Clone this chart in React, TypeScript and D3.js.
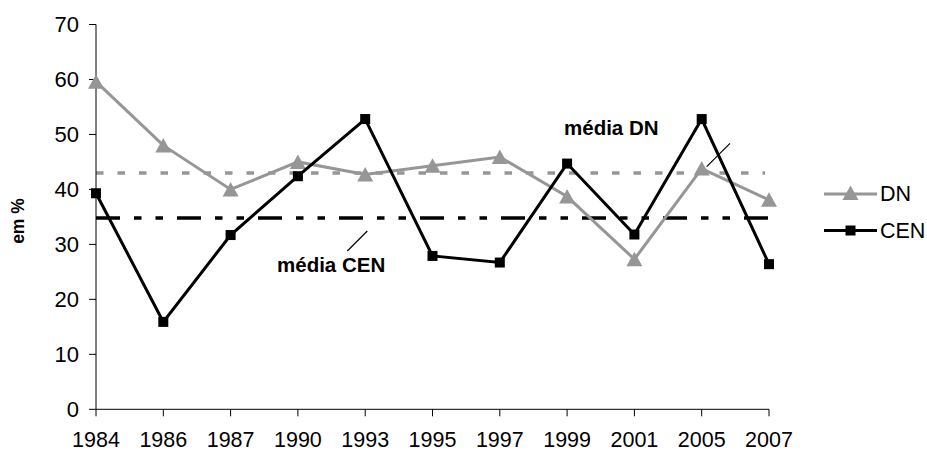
import React from "react";
import * as d3 from "d3";

// Years on the category axis
const years = ["1984", "1986", "1987", "1990", "1993", "1995", "1997", "1999", "2001", "2005", "2007"];
// Series values (em %)
const dnValues = [59.6, 48.0, 40.0, 45.0, 42.7, 44.3, 45.9, 38.7, 27.3, 43.8, 38.1];
const cenValues = [39.3, 15.9, 31.7, 42.4, 52.8, 27.9, 26.7, 44.7, 31.8, 52.8, 26.4];
// Average reference lines
const dnMean = 43.0;
const cenMean = 34.8;
// Value-axis ticks
const yTicks = [0, 10, 20, 30, 40, 50, 60, 70];

const W = 927;
const H = 452;
const GRAY = "#969696";
const FONT = "Arial, 'Liberation Sans', sans-serif";

export default function App() {
  const x = d3.scalePoint<string>().domain(years).range([96, 769]);
  const y = d3.scaleLinear().domain([0, 70]).range([409.3, 24.5]);

  const line = d3
    .line<number>()
    .x((_, i) => x(years[i]) as number)
    .y((d) => y(d));

  const x0 = x(years[0]) as number;
  const x1 = x(years[years.length - 1]) as number;

  const tri = "M0,-7.5L8,7L-8,7Z";

  return (
    <svg
      width={W}
      height={H}
      style={{ position: "absolute", left: 0, top: 0, background: "#fff" }}
      fontFamily={FONT}
    >
      {/* mean lines */}
      <line x1={x0} x2={x1 - 4} y1={y(dnMean)} y2={y(dnMean)} stroke={GRAY} strokeWidth={3.5} strokeDasharray="7.5 14" />
      <line x1={x0} x2={x1} y1={y(cenMean)} y2={y(cenMean)} stroke="#000" strokeWidth={3.5} strokeDasharray="24 14 7.5 14 7.5 14" />

      {/* axes */}
      <line x1={x0} x2={x0} y1={y(70)} y2={y(0)} stroke="#000" strokeWidth={1} />
      <line x1={x0} x2={x1} y1={y(0)} y2={y(0)} stroke="#000" strokeWidth={1} />
      {yTicks.map((t) => (
        <g key={t}>
          <line x1={x0 - 7} x2={x0} y1={y(t)} y2={y(t)} stroke="#000" strokeWidth={1} />
          <text x={79} y={y(t)} dy="0.36em" textAnchor="end" fontSize={22} fill="#000">
            {t}
          </text>
        </g>
      ))}
      {years.map((yr) => (
        <g key={yr}>
          <line x1={x(yr)} x2={x(yr)} y1={y(0)} y2={y(0) + 7} stroke="#000" strokeWidth={1} />
          <text x={x(yr)} y={447} textAnchor="middle" fontSize={21.5} fill="#000">
            {yr}
          </text>
        </g>
      ))}

      {/* axis title */}
      <text
        transform={`translate(24,221) rotate(-90)`}
        textAnchor="middle"
        fontSize={17.5}
        fontWeight="bold"
        fill="#000"
      >
        em %
      </text>

      {/* DN series */}
      <path d={line(dnValues) as string} fill="none" stroke={GRAY} strokeWidth={3} strokeLinejoin="miter" />
      {dnValues.map((v, i) => (
        <path key={i} d={tri} transform={`translate(${x(years[i])},${y(v)})`} fill={GRAY} />
      ))}

      {/* CEN series */}
      <path d={line(cenValues) as string} fill="none" stroke="#000" strokeWidth={3} strokeLinejoin="miter" />
      {cenValues.map((v, i) => (
        <rect key={i} x={(x(years[i]) as number) - 5} y={y(v) - 5} width={10} height={10} fill="#000" />
      ))}

      {/* annotations */}
      <text x={564} y={135} fontSize={20.5} fontWeight="bold" fill="#000">
        média DN
      </text>
      <line x1={730} y1={143.3} x2={706.7} y2={166.7} stroke="#000" strokeWidth={1.2} />
      <text x={277} y={272} fontSize={20.5} fontWeight="bold" fill="#000">
        média CEN
      </text>
      <line x1={367.3} y1={231} x2={347.3} y2={251} stroke="#000" strokeWidth={1.2} />

      {/* legend */}
      <line x1={824} x2={877} y1={194} y2={194} stroke={GRAY} strokeWidth={3} />
      <path d={tri} transform="translate(850.5,193)" fill={GRAY} />
      <text x={880} y={201} fontSize={21.5} fill="#000">
        DN
      </text>
      <line x1={824} x2={877} y1={230.5} y2={230.5} stroke="#000" strokeWidth={3} />
      <rect x={845.5} y={225.5} width={10} height={10} fill="#000" />
      <text x={880} y={237.5} fontSize={21.5} fill="#000">
        CEN
      </text>
    </svg>
  );
}
